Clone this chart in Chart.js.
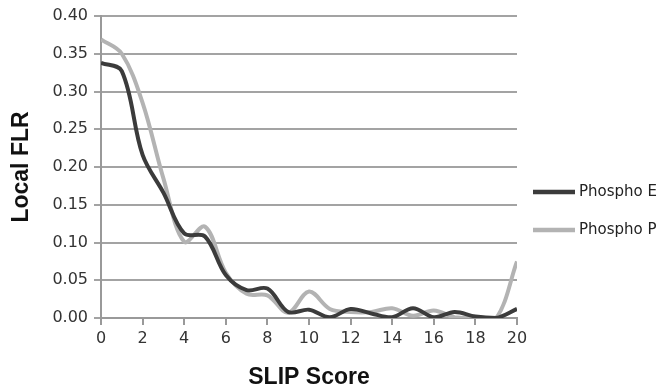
<!DOCTYPE html>
<html>
<head>
<meta charset="utf-8">
<script src="https://cdn.jsdelivr.net/npm/chart.js@4/dist/chart.umd.min.js"></script>
<style>
  html, body { margin: 0; padding: 0; background: #fff; }
  #wrap { width: 664px; height: 388px; position: relative; }
</style>
</head>
<body>
<div id="wrap"><canvas id="myChart" width="664" height="388"></canvas></div>
<script>
const slipScores = [0, 1, 2, 3, 4, 5, 6, 7, 8, 9, 10, 11, 12, 13, 14, 15, 16, 17, 18, 19, 20];
const phosphoE = [0.338, 0.327, 0.216, 0.166, 0.112, 0.108, 0.057, 0.037, 0.039, 0.008, 0.011, 0.001, 0.012, 0.006, 0.001, 0.013, 0.001, 0.008, 0.002, 0.000, 0.012];
const phosphoP = [0.369, 0.350, 0.285, 0.185, 0.101, 0.121, 0.060, 0.032, 0.030, 0.007, 0.035, 0.012, 0.008, 0.008, 0.013, 0.003, 0.010, 0.001, 0.000, 0.000, 0.075];
const seriesNames = ['Phospho E', 'Phospho P'];
const seriesColors = ['#3b3b3b', '#b3b3b3'];

const tickFont = { size: 16, family: '"DejaVu Sans", Verdana, sans-serif' };
const titleFont = { size: 23, weight: 'bold', family: '"Liberation Sans", Arial, sans-serif' };

const toPoints = vals => vals.map((v, i) => ({ x: slipScores[i], y: v }));

// legend drawn at the right, like the original
const sideLegend = {
  id: 'sideLegend',
  afterDraw(chart) {
    const ctx = chart.ctx;
    ctx.save();
    ctx.font = '15px "DejaVu Sans", Verdana, sans-serif';
    ctx.textBaseline = 'middle';
    ctx.lineCap = 'butt';
    chart.data.datasets.forEach((ds, i) => {
      const y = 192 + i * 38;
      ctx.strokeStyle = ds.borderColor;
      ctx.lineWidth = 4.5;
      ctx.beginPath();
      ctx.moveTo(533, y);
      ctx.lineTo(575, y);
      ctx.stroke();
      ctx.fillStyle = '#222';
      ctx.fillText(ds.label, 579, y);
    });
    ctx.restore();
  }
};

new Chart(document.getElementById('myChart'), {
  type: 'line',
  data: {
    datasets: [
      { label: seriesNames[0], data: toPoints(phosphoE), borderColor: seriesColors[0], borderWidth: 4, pointRadius: 0, tension: 0.35, fill: false },
      { label: seriesNames[1], data: toPoints(phosphoP), borderColor: seriesColors[1], borderWidth: 4, pointRadius: 0, tension: 0.35, fill: false }
    ]
  },
  options: {
    responsive: false,
    animation: false,
    layout: { padding: { top: 16, right: 147, left: 0, bottom: 0 } },
    plugins: {
      legend: { display: false },
      tooltip: { enabled: false }
    },
    scales: {
      x: {
        type: 'linear',
        min: 0,
        max: 20,
        afterFit: s => { s.height = 70; },
        ticks: { stepSize: 2, color: '#333', padding: 4, font: tickFont },
        grid: { drawOnChartArea: false, drawTicks: true, tickLength: 7, color: '#999', lineWidth: 2 },
        border: { color: '#999', width: 2 },
        title: { display: true, text: 'SLIP Score', color: '#111', padding: { top: 0, bottom: 0 }, font: Object.assign({ lineHeight: 0.9 }, titleFont) }
      },
      y: {
        min: 0,
        max: 0.4,
        afterFit: s => { s.width = 101; },
        ticks: { stepSize: 0.05, color: '#333', padding: 6, callback: v => v.toFixed(2), font: tickFont },
        grid: { color: '#a3a3a3', lineWidth: 2, tickLength: 7 },
        border: { color: '#999', width: 2 },
        title: { display: true, text: 'Local FLR', color: '#111', padding: { top: 8, bottom: 8 }, font: titleFont }
      }
    }
  },
  plugins: [sideLegend]
});
</script>
</body>
</html>
